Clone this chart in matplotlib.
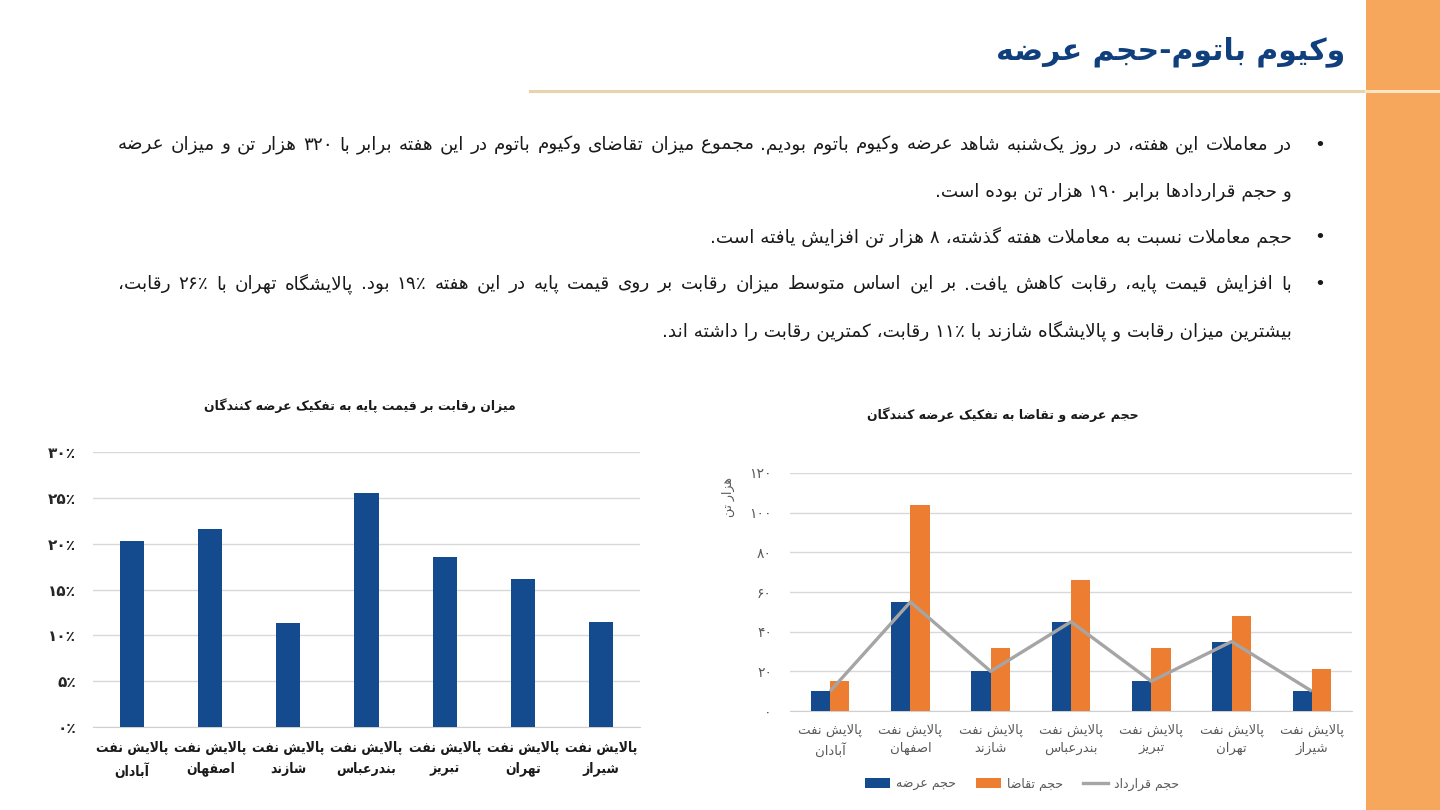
import re
import numpy as np
import matplotlib
matplotlib.use("Agg")
import matplotlib.pyplot as plt
from matplotlib.patches import Patch, Rectangle
from matplotlib.lines import Line2D
from matplotlib import font_manager

plt.rcParams['font.family'] = ['DejaVu Sans']

# ---------------- data ----------------
title_text = "وکیوم باتوم-حجم عرضه"
bullet_lines = [
    "در معاملات این هفته، در روز یک\u200cشنبه شاهد عرضه وکیوم باتوم بودیم. مجموع میزان تقاضای وکیوم باتوم در این هفته برابر با ۳۲۰ هزار تن و میزان عرضه",
    "و حجم قراردادها برابر ۱۹۰ هزار تن بوده است.",
    "حجم معاملات نسبت به معاملات هفته گذشته، ۸ هزار تن افزایش یافته است.",
    "با افزایش قیمت پایه، رقابت کاهش یافت. بر این اساس متوسط میزان رقابت بر روی قیمت پایه در این هفته ۱۹٪ بود. پالایشگاه تهران با ۲۶٪ رقابت،",
    "بیشترین میزان رقابت و پالایشگاه شازند با ۱۱٪ رقابت، کمترین رقابت را داشته اند.",
]
bullet_flags = [True, False, True, True, False]
justify_flags = [True, False, False, True, False]

refinery_prefix = "پالایش نفت"
refineries = ["آبادان", "اصفهان", "شازند", "بندرعباس", "تبریز", "تهران", "شیراز"]

left_title = "میزان رقابت بر قیمت پایه به تفکیک عرضه کنندگان"
competition = [0.203, 0.216, 0.113, 0.255, 0.185, 0.161, 0.115]
pct_ticks = [0, 0.05, 0.10, 0.15, 0.20, 0.25, 0.30]
pct_tick_labels = ["۰٪", "۵٪", "۱۰٪", "۱۵٪", "۲۰٪", "۲۵٪", "۳۰٪"]

right_title = "حجم عرضه و تقاضا به تفکیک عرضه کنندگان"
right_ylabel = "هزار تن"
supply = [10, 55, 20, 45, 15, 35, 10]
demand = [15, 104, 32, 66, 32, 48, 21]
contract = [10, 55, 20, 45, 15, 35, 10]
vol_ticks = [0, 20, 40, 60, 80, 100, 120]
vol_tick_labels = ["۰", "۲۰", "۴۰", "۶۰", "۸۰", "۱۰۰", "۱۲۰"]
legend_labels = ["حجم عرضه", "حجم تقاضا", "حجم قرارداد"]

# ---------------- Arabic/Persian shaping ----------------
FORMS = {
    'ء': ('\uFE80', None, None, None),
    'آ': ('\uFE81', '\uFE82', None, None),
    'أ': ('\uFE83', '\uFE84', None, None),
    'ؤ': ('\uFE85', '\uFE86', None, None),
    'إ': ('\uFE87', '\uFE88', None, None),
    'ئ': ('\uFE89', '\uFE8A', '\uFE8B', '\uFE8C'),
    'ا': ('\uFE8D', '\uFE8E', None, None),
    'ب': ('\uFE8F', '\uFE90', '\uFE91', '\uFE92'),
    'ة': ('\uFE93', '\uFE94', None, None),
    'ت': ('\uFE95', '\uFE96', '\uFE97', '\uFE98'),
    'ث': ('\uFE99', '\uFE9A', '\uFE9B', '\uFE9C'),
    'ج': ('\uFE9D', '\uFE9E', '\uFE9F', '\uFEA0'),
    'ح': ('\uFEA1', '\uFEA2', '\uFEA3', '\uFEA4'),
    'خ': ('\uFEA5', '\uFEA6', '\uFEA7', '\uFEA8'),
    'د': ('\uFEA9', '\uFEAA', None, None),
    'ذ': ('\uFEAB', '\uFEAC', None, None),
    'ر': ('\uFEAD', '\uFEAE', None, None),
    'ز': ('\uFEAF', '\uFEB0', None, None),
    'س': ('\uFEB1', '\uFEB2', '\uFEB3', '\uFEB4'),
    'ش': ('\uFEB5', '\uFEB6', '\uFEB7', '\uFEB8'),
    'ص': ('\uFEB9', '\uFEBA', '\uFEBB', '\uFEBC'),
    'ض': ('\uFEBD', '\uFEBE', '\uFEBF', '\uFEC0'),
    'ط': ('\uFEC1', '\uFEC2', '\uFEC3', '\uFEC4'),
    'ظ': ('\uFEC5', '\uFEC6', '\uFEC7', '\uFEC8'),
    'ع': ('\uFEC9', '\uFECA', '\uFECB', '\uFECC'),
    'غ': ('\uFECD', '\uFECE', '\uFECF', '\uFED0'),
    'ف': ('\uFED1', '\uFED2', '\uFED3', '\uFED4'),
    'ق': ('\uFED5', '\uFED6', '\uFED7', '\uFED8'),
    'ك': ('\uFED9', '\uFEDA', '\uFEDB', '\uFEDC'),
    'ل': ('\uFEDD', '\uFEDE', '\uFEDF', '\uFEE0'),
    'م': ('\uFEE1', '\uFEE2', '\uFEE3', '\uFEE4'),
    'ن': ('\uFEE5', '\uFEE6', '\uFEE7', '\uFEE8'),
    'ه': ('\uFEE9', '\uFEEA', '\uFEEB', '\uFEEC'),
    'و': ('\uFEED', '\uFEEE', None, None),
    'ى': ('\uFEEF', '\uFEF0', None, None),
    'ي': ('\uFEF1', '\uFEF2', '\uFEF3', '\uFEF4'),
    'پ': ('\uFB56', '\uFB57', '\uFB58', '\uFB59'),
    'چ': ('\uFB7A', '\uFB7B', '\uFB7C', '\uFB7D'),
    'ژ': ('\uFB8A', '\uFB8B', None, None),
    'ک': ('\uFB8E', '\uFB8F', '\uFB90', '\uFB91'),
    'گ': ('\uFB92', '\uFB93', '\uFB94', '\uFB95'),
    'ی': ('\uFBFC', '\uFBFD', '\uFBFE', '\uFBFF'),
}
LAM_ALEF = {'ا': ('\uFEFB', '\uFEFC'), 'آ': ('\uFEF5', '\uFEF6'),
            'أ': ('\uFEF7', '\uFEF8'), 'إ': ('\uFEF9', '\uFEFA')}


def _cnext(c):
    return c in FORMS and FORMS[c][2] is not None


def _cprev(c):
    return c in FORMS and FORMS[c][1] is not None


def shape(text):
    chars = list(text)
    n = len(chars)
    out = []
    i = 0
    while i < n:
        c = chars[i]
        if c not in FORMS:
            if c != '\u200c':
                out.append(c)
            i += 1
            continue
        pj = i > 0 and _cnext(chars[i - 1]) and _cprev(c)
        if c == 'ل' and i + 1 < n and chars[i + 1] in LAM_ALEF:
            iso, fin = LAM_ALEF[chars[i + 1]]
            out.append(fin if pj else iso)
            i += 2
            continue
        nj = i < n - 1 and _cnext(c) and _cprev(chars[i + 1])
        f = FORMS[c]
        if pj and nj:
            out.append(f[3])
        elif pj:
            out.append(f[1])
        elif nj:
            out.append(f[2])
        else:
            out.append(f[0])
        i += 1
    return ''.join(out)


def visual(text):
    s = shape(text)[::-1]
    return re.sub(r'[0-9\u06F0-\u06F9\u066A%]+', lambda m: m.group(0)[::-1], s)


# ---------------- figure ----------------
W, H = 1440, 810
fig = plt.figure(figsize=(14.4, 8.1), dpi=100)
fig.patch.set_facecolor('white')
renderer = fig.canvas.get_renderer()


def fx(px):
    return px / W


def fy(py):
    return 1 - py / H


def text_width(s, **kw):
    t = fig.text(0, 0, s, **kw)
    w = t.get_window_extent(renderer).width
    t.remove()
    return w


BLUE = '#134b8e'
ORANGE = '#ed7d31'
GRAY = '#a5a5a5'
TITLE_BLUE = '#0f3f7d'

# condensed bold available?
_cond_path = font_manager.findfont(font_manager.FontProperties(
    family='DejaVu Sans', weight='bold', stretch='condensed'))
HAS_COND = 'Condensed' in _cond_path

# orange strip on the right and separator line
fig.add_artist(Rectangle((fx(1366), 0), fx(1440) - fx(1366), 1, transform=fig.transFigure,
                         facecolor='#f7a75c', edgecolor='none', zorder=0))
fig.add_artist(Line2D([fx(530), fx(1366)], [fy(91), fy(91)], transform=fig.transFigure,
                      color='#e9d3ab', lw=2.2, zorder=1))
fig.add_artist(Line2D([fx(1366), fx(1440)], [fy(91), fy(91)], transform=fig.transFigure,
                      color='#fde6c6', lw=2.2, zorder=1))

# title
fig.text(fx(1345), fy(52), visual(title_text), ha='right', va='center', fontsize=21.5,
         fontweight='bold', color=TITLE_BLUE)

# bullet text
body_kw = dict(color='#1a1a1a')
right_x, left_x = 1292, 118
target = right_x - left_x
w12 = text_width(visual(bullet_lines[0]), fontsize=12, **body_kw)
body_size = min(13.3, 12 * 0.985 * target / w12)
line_ys = [145, 192, 237, 284, 331]

for line, y, bullet, just in zip(bullet_lines, line_ys, bullet_flags, justify_flags):
    if bullet:
        fig.text(fx(1320), fy(y), "•", ha='center', va='center', fontsize=body_size, **body_kw)
    if just:
        words = line.split(' ')
        vis = [visual(wd) for wd in words]
        widths = [text_width(v, fontsize=body_size, **body_kw) for v in vis]
        gap = (target - sum(widths)) / (len(words) - 1)
        x = right_x
        for v, wd in zip(vis, widths):
            fig.text(fx(x), fy(y), v, ha='right', va='center', fontsize=body_size, **body_kw)
            x -= wd + gap
    else:
        fig.text(fx(right_x), fy(y), visual(line), ha='right', va='center',
                 fontsize=body_size, **body_kw)

xpos = np.arange(len(refineries))

# ---------------- left chart ----------------
ax1 = fig.add_axes([fx(93), fy(727), fx(640) - fx(93), fy(452) - fy(727)])
ax1.bar(xpos, competition, width=0.31, color=BLUE, zorder=3)
ax1.set_xlim(-0.5, len(refineries) - 0.5)
ax1.set_ylim(0, 0.30)
ax1.set_yticks(pct_ticks, pct_tick_labels)
ax1.set_xticks(xpos, [visual(refinery_prefix) + "\n" + visual(r) for r in refineries])
ax1.yaxis.grid(True, color='#d9d9d9', lw=1, zorder=0)
ax1.set_axisbelow(True)
for s in ['top', 'right', 'left']:
    ax1.spines[s].set_visible(False)
ax1.spines['bottom'].set_color('#d0d0d0')
ax1.tick_params(axis='both', length=0)
ax1.tick_params(axis='y', pad=12, labelsize=11, labelcolor='#262626')
ax1.tick_params(axis='x', pad=10, labelsize=(10 if HAS_COND else 9), labelcolor='#1a1a1a')
for lab in ax1.get_yticklabels():
    lab.set_fontweight('bold')
for lab in ax1.get_xticklabels():
    lab.set_fontweight('bold')
    if HAS_COND:
        lab.set_fontstretch('condensed')
    lab.set_linespacing(1.6 if HAS_COND else 1.75)
fig.text(fx(360), fy(406), visual(left_title), ha='center', va='center', fontsize=9,
         fontweight='bold', color='#1a1a1a')

# ---------------- right chart ----------------
ax2 = fig.add_axes([fx(790), fy(711), fx(1352) - fx(790), fy(473) - fy(711)])
bw = 0.24
ax2.bar(xpos - bw / 2, supply, width=bw, color=BLUE, zorder=3)
ax2.bar(xpos + bw / 2, demand, width=bw, color=ORANGE, zorder=3)
ax2.plot(xpos, contract, color=GRAY, lw=2.4, zorder=4, solid_capstyle='butt')
ax2.set_xlim(-0.5, len(refineries) - 0.5)
ax2.set_ylim(0, 120)
ax2.set_yticks(vol_ticks, vol_tick_labels)
ax2.set_xticks(xpos, [visual(refinery_prefix) + "\n" + visual(r) for r in refineries])
ax2.yaxis.grid(True, color='#d9d9d9', lw=1, zorder=0)
ax2.set_axisbelow(True)
for s in ['top', 'right', 'left']:
    ax2.spines[s].set_visible(False)
ax2.spines['bottom'].set_color('#d0d0d0')
ax2.tick_params(axis='both', length=0)
ax2.tick_params(axis='y', pad=13, labelsize=10, labelcolor='#595959')
ax2.tick_params(axis='x', pad=9, labelsize=9.5, labelcolor='#595959')
for lab in ax2.get_xticklabels():
    lab.set_linespacing(1.5)
fig.text(fx(728), fy(497), visual(right_ylabel), rotation=90, ha='center', va='center',
         fontsize=9, color='#595959')
fig.text(fx(1003), fy(415), visual(right_title), ha='center', va='center', fontsize=9,
         fontweight='bold', color='#1a1a1a')

handles = [Patch(facecolor=BLUE, edgecolor='none'),
           Patch(facecolor=ORANGE, edgecolor='none'),
           Line2D([0], [0], color=GRAY, lw=2.4)]
fig.legend(handles, [visual(l) for l in legend_labels], loc='center',
           bbox_to_anchor=(fx(1022), fy(784)), ncol=3, frameon=False, fontsize=9,
           labelcolor='#595959', handlelength=2.0, handleheight=0.9, columnspacing=1.6,
           handletextpad=0.5)

fig.savefig('out.png', dpi=100)
